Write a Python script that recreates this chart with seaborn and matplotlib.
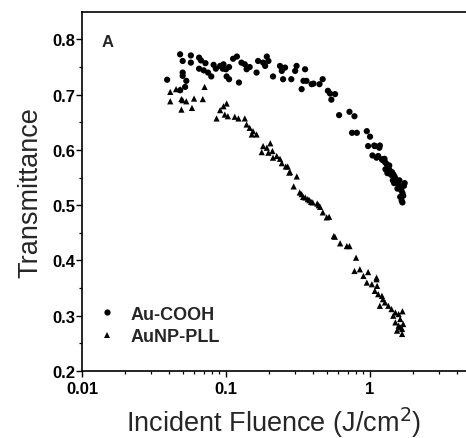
import matplotlib
matplotlib.use("Agg")
import matplotlib.pyplot as plt
import seaborn as sns
import pandas as pd
import numpy as np
from matplotlib.ticker import LogLocator, FixedLocator, NullFormatter

# ---- data ----
cooh_x = [0.039, 0.048, 0.050, 0.050, 0.050, 0.048, 0.052, 0.053, 0.057, 0.057,
          0.065, 0.067, 0.065, 0.070, 0.072, 0.075, 0.079, 0.082, 0.085, 0.091,
          0.095, 0.096, 0.100, 0.101, 0.105, 0.105, 0.112, 0.119, 0.123, 0.128,
          0.135, 0.139, 0.146, 0.163, 0.167, 0.181, 0.187, 0.192, 0.197, 0.212,
          0.237, 0.244, 0.249, 0.257, 0.284, 0.302, 0.309, 0.335, 0.345, 0.354,
          0.362, 0.393, 0.405, 0.446, 0.469, 0.51, 0.528, 0.572, 0.539, 0.61,
          0.72, 0.75, 0.78, 0.81, 0.95, 0.97, 1.0, 1.04, 1.07, 1.08, 1.11, 1.14,
          1.16, 1.17, 1.21, 1.22, 1.26, 1.27, 1.30, 1.33, 1.28, 1.35, 1.38, 1.42,
          1.40, 1.45, 1.48, 1.50, 1.44, 1.52, 1.55, 1.58, 1.47, 1.60, 1.62, 1.55,
          1.65, 1.68, 1.70, 1.62, 1.66, 1.68, 1.72, 1.74, 1.60, 1.36, 1.32]
cooh_y = [0.727, 0.773, 0.761, 0.740, 0.734, 0.708, 0.714, 0.725, 0.771, 0.758,
          0.767, 0.762, 0.747, 0.744, 0.757, 0.740, 0.733, 0.754, 0.747, 0.752,
          0.747, 0.755, 0.746, 0.733, 0.728, 0.750, 0.765, 0.769, 0.722, 0.758,
          0.755, 0.746, 0.750, 0.740, 0.761, 0.758, 0.752, 0.769, 0.761, 0.733,
          0.752, 0.743, 0.728, 0.749, 0.728, 0.743, 0.752, 0.710, 0.725, 0.746,
          0.725, 0.719, 0.720, 0.719, 0.728, 0.707, 0.702, 0.701, 0.691, 0.663,
          0.669, 0.631, 0.661, 0.631, 0.634, 0.607, 0.624, 0.590, 0.608, 0.607,
          0.586, 0.589, 0.604, 0.608, 0.583, 0.582, 0.584, 0.578, 0.575, 0.570,
          0.565, 0.566, 0.562, 0.560, 0.555, 0.556, 0.552, 0.548, 0.545, 0.545,
          0.542, 0.538, 0.540, 0.535, 0.530, 0.530, 0.527, 0.522, 0.517, 0.515,
          0.508, 0.505, 0.535, 0.540, 0.545, 0.572, 0.558]

pll_x = [0.041, 0.041, 0.045, 0.048, 0.049, 0.050, 0.053, 0.049, 0.058, 0.060,
         0.069, 0.071, 0.086, 0.091, 0.096, 0.101, 0.098, 0.103, 0.115, 0.122,
         0.135, 0.139, 0.146, 0.154, 0.163, 0.151, 0.177, 0.181, 0.192, 0.203,
         0.197, 0.21, 0.212, 0.225, 0.237, 0.244, 0.26, 0.268, 0.275, 0.278,
         0.31, 0.295, 0.325, 0.335, 0.343, 0.355, 0.37, 0.38, 0.39, 0.40,
         0.43, 0.44, 0.45, 0.47, 0.50, 0.52, 0.56, 0.57, 0.62, 0.69, 0.72,
         0.80, 0.78, 0.85, 0.97, 0.90, 0.95, 1.03, 1.11, 1.11, 1.12, 1.08,
         1.14, 1.21, 1.23, 1.27, 1.17, 1.34, 1.41, 1.50, 1.45, 1.58, 1.62,
         1.50, 1.58, 1.67, 1.54, 1.67, 1.70, 1.62, 1.68]
pll_y = [0.705, 0.688, 0.710, 0.710, 0.692, 0.690, 0.688, 0.673, 0.676, 0.693,
         0.692, 0.714, 0.657, 0.672, 0.679, 0.684, 0.664, 0.661, 0.660, 0.657,
         0.657, 0.646, 0.640, 0.634, 0.628, 0.628, 0.596, 0.607, 0.604, 0.612,
         0.595, 0.598, 0.586, 0.589, 0.584, 0.576, 0.570, 0.570, 0.559, 0.560,
         0.552, 0.534, 0.523, 0.520, 0.515, 0.514, 0.511, 0.509, 0.506, 0.505,
         0.503, 0.500, 0.497, 0.487, 0.478, 0.479, 0.444, 0.443, 0.431, 0.426,
         0.426, 0.405, 0.381, 0.384, 0.379, 0.372, 0.360, 0.357, 0.366, 0.369,
         0.354, 0.345, 0.339, 0.336, 0.330, 0.324, 0.318, 0.318, 0.312, 0.306,
         0.300, 0.303, 0.294, 0.288, 0.282, 0.276, 0.273, 0.267, 0.285, 0.279,
         0.308]

series_names = ["Au-COOH", "AuNP-PLL"]
x_ticks = [0.01, 0.1, 1]
x_tick_labels = ["0.01", "0.1", "1"]
y_ticks = [0.2, 0.3, 0.4, 0.5, 0.6, 0.7, 0.8]
y_tick_labels = ["0.2", "0.3", "0.4", "0.5", "0.6", "0.7", "0.8"]

df = pd.DataFrame({
    "fluence": cooh_x + pll_x,
    "T": cooh_y + pll_y,
    "sample": [series_names[0]] * len(cooh_x) + [series_names[1]] * len(pll_x),
})

sns.set_theme(style="ticks")
plt.rcParams["font.family"] = ["Liberation Sans", "DejaVu Sans"]

fig = plt.figure(figsize=(4.66, 4.39), dpi=100)
ax = fig.add_axes([0.176, 0.1526, 0.824, 0.8183])

sns.scatterplot(data=df, x="fluence", y="T", hue="sample", style="sample",
                markers={"Au-COOH": "o", "AuNP-PLL": "^"},
                palette={"Au-COOH": "black", "AuNP-PLL": "black"},
                s=20, linewidth=0, ax=ax, legend=True)

ax.set_xscale("log")
ax.set_xlim(0.01, 4.64)
ax.set_ylim(0.2, 0.85)

ax.xaxis.set_major_locator(FixedLocator(x_ticks))
ax.set_xticklabels(x_tick_labels, fontweight="bold")
ax.xaxis.set_minor_locator(LogLocator(base=10, subs=np.arange(2, 10)))
ax.xaxis.set_minor_formatter(NullFormatter())
ax.set_yticks(y_ticks)
ax.set_yticklabels(y_tick_labels, fontweight="bold")
ax.set_yticks([0.25, 0.35, 0.45, 0.55, 0.65, 0.75], minor=True)

for s in ["left", "bottom", "top"]:
    ax.spines[s].set_color("black")
    ax.spines[s].set_linewidth(1.2)
ax.spines["right"].set_visible(False)

ax.tick_params(axis="both", which="major", direction="out", length=4, width=1.0,
               labelsize=12, colors="black")
ax.tick_params(axis="y", which="major", pad=1)
ax.tick_params(axis="x", which="major", pad=3)
ax.tick_params(axis="both", which="minor", direction="out", length=2.5, width=0.9,
               colors="black")

ax.set_xlabel("Incident Fluence (J/cm$^2$)", fontsize=19.5, labelpad=6)
ax.set_ylabel("Transmittance", fontsize=19.5, labelpad=6)

ax.text(0.05, 0.905, "A", transform=ax.transAxes, fontsize=12, fontweight="bold")

leg = ax.legend(loc="lower left", bbox_to_anchor=(0.041, 0.072), frameon=False,
                prop={"size": 13, "weight": "bold"}, handlelength=1.0,
                handletextpad=0.8, borderaxespad=0, borderpad=0,
                labelspacing=0.3, markerscale=1.0)

fig.savefig("out.png", dpi=100)
